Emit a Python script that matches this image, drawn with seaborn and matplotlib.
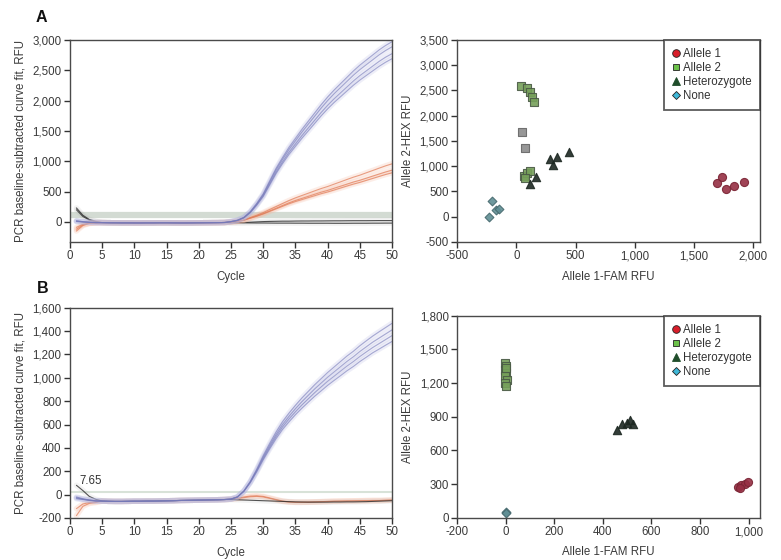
import matplotlib
matplotlib.use("Agg")
import matplotlib.pyplot as plt
from matplotlib.ticker import FuncFormatter
from matplotlib.lines import Line2D
import seaborn as sns
import pandas as pd

sns.set_style("white")
plt.rcParams["font.family"] = ["Liberation Sans", "DejaVu Sans"]

# ---------------- data ----------------
cycles = list(range(1, 51))

# panel A amplification curves (cycles 1..50)
a_base = [-12, -14, -15, -16, -16, -17, -17, -16, -16, -15, -15, -16, -17, -17, -16, -15, -14, -13, -12, -10]
a_blue_1 = [20, 5, -5, -10] + a_base + [5, 28, 75, 170, 305, 462, 672, 882, 1060, 1228, 1375, 1522, 1659, 1795, 1932, 2058, 2173, 2278, 2383, 2488, 2583, 2667, 2751, 2835, 2908, 2970]
a_blue_2 = [15, 3, -6, -11] + a_base + [5, 26, 72, 164, 296, 449, 653, 857, 1030, 1193, 1336, 1479, 1612, 1744, 1877, 1999, 2111, 2213, 2315, 2417, 2509, 2591, 2672, 2754, 2825, 2887]
a_blue_3 = [10, 0, -8, -12] + a_base + [5, 24, 68, 157, 284, 431, 627, 823, 990, 1147, 1284, 1421, 1548, 1676, 1803, 1921, 2029, 2127, 2225, 2323, 2411, 2489, 2568, 2646, 2715, 2773]
a_blue_4 = [5, -2, -9, -12] + a_base + [4, 23, 66, 152, 275, 418, 608, 798, 960, 1112, 1245, 1378, 1501, 1625, 1748, 1862, 1967, 2062, 2157, 2252, 2337, 2413, 2489, 2565, 2632, 2690]
a_orange_1 = [-150, -60, -25, -15] + a_base + [0, 11, 33, 72, 110, 154, 204, 253, 303, 352, 396, 435, 473, 512, 550, 583, 622, 660, 699, 737, 770, 809, 847, 886, 924, 957]
a_orange_2 = [-120, -50, -22, -14] + a_base + [0, 10, 29, 64, 98, 137, 181, 225, 270, 314, 353, 387, 421, 456, 490, 519, 554, 588, 622, 657, 686, 720, 755, 789, 823, 853]
a_orange_3 = [-90, -40, -20, -14] + a_base + [0, 9, 28, 60, 93, 130, 172, 214, 256, 298, 335, 367, 400, 432, 465, 493, 525, 558, 591, 623, 651, 684, 716, 749, 781, 809]
a_black_1 = [230, 110, 40, 10] + a_base + [-15, -12, -10, -5, 0, 5, 8, 10, 12, 12, 14, 15, 15, 16, 16, 17, 18, 18, 19, 20, 20, 20, 21, 22, 22, 22]
a_black_2 = [200, 90, 30, 5] + a_base + [-14, -15, -16, -17, -18, -18, -19, -20, -20, -20, -21, -21, -22, -22, -22, -22, -23, -23, -23, -22, -22, -22, -21, -21, -20, -20]
a_threshold = 115

# panel B amplification curves
b_base = [-55, -57, -58, -58, -57, -56, -56, -55, -55, -54, -53, -52, -50, -49, -48, -47, -46, -45, -44, -42]
b_blue_1 = [-20, -35, -45, -52] + b_base + [-38, -20, 31, 114, 218, 333, 437, 536, 624, 697, 764, 827, 884, 941, 993, 1045, 1092, 1139, 1186, 1227, 1274, 1316, 1357, 1394, 1430, 1466]
b_blue_2 = [-25, -38, -47, -53] + b_base + [-38, -20, 30, 110, 210, 320, 420, 515, 600, 670, 735, 795, 850, 905, 955, 1005, 1050, 1095, 1140, 1180, 1225, 1265, 1305, 1340, 1375, 1410]
b_blue_3 = [-30, -40, -48, -54] + b_base + [-38, -20, 29, 106, 203, 309, 405, 497, 579, 647, 709, 767, 820, 873, 922, 970, 1013, 1057, 1100, 1139, 1182, 1221, 1259, 1293, 1327, 1361]
b_blue_4 = [-35, -42, -50, -55] + b_base + [-38, -20, 28, 102, 195, 298, 391, 479, 558, 623, 684, 739, 791, 842, 888, 935, 977, 1018, 1060, 1097, 1139, 1176, 1214, 1246, 1279, 1311]
b_orange_1 = [-180, -100, -75, -68] + b_base + [-38, -30, -20, -12, -10, -15, -28, -42, -55, -62, -65, -65, -64, -62, -60, -58, -56, -55, -54, -53, -52, -51, -50, -50, -48, -46]
b_orange_2 = [-120, -80, -68, -62] + b_base + [-40, -34, -26, -18, -15, -20, -32, -45, -57, -63, -66, -66, -65, -63, -61, -59, -57, -56, -55, -54, -53, -52, -51, -51, -49, -47]
b_black_1 = [80, 35, -15, -40] + b_base + [-42, -44, -46, -48, -50, -52, -54, -56, -58, -60, -62, -63, -64, -64, -64, -64, -63, -63, -62, -62, -61, -60, -58, -56, -54, -52]
b_threshold = 25
b_label = "7.65"

# panel A allelic discrimination
a_al1_x = [1691, 1733, 1767, 1837, 1921]
a_al1_y = [667, 785, 548, 614, 693]
a_al2_x = [42, 90, 118, 132, 152, 62, 90, 118, 76]
a_al2_y = [2586, 2540, 2474, 2375, 2277, 796, 862, 895, 763]
a_unc_x = [51, 70]
a_unc_y = [1671, 1355]
a_het_x = [112, 169, 287, 309, 343, 447]
a_het_y = [651, 783, 1138, 1026, 1178, 1290]
a_non_x = [-205, -228, -169, -149]
a_non_y = [316, -13, 125, 158]

# panel B allelic discrimination
b_al1_x = [957, 970, 983, 996, 963]
b_al1_y = [270, 291, 300, 321, 261]
b_al2_x = [-3, 2, -4, 3, -2, 4, -3, 1, 0]
b_al2_y = [1375, 1350, 1320, 1290, 1260, 1230, 1200, 1170, 1330]
b_het_x = [460, 480, 500, 513, 523]
b_het_y = [781, 835, 841, 870, 832]
b_non_x = [0, 3]
b_non_y = [53, 39]

legend_labels = ["Allele 1", "Allele 2", "Heterozygote", "None"]

# ---------------- figure ----------------
fig = plt.figure(figsize=(7.81, 5.60), dpi=100)
axA1 = fig.add_axes([0.0896, 0.568, 0.4123, 0.3607])
axA2 = fig.add_axes([0.5852, 0.568, 0.3880, 0.3607])
axB1 = fig.add_axes([0.0896, 0.075, 0.4123, 0.3755])
axB2 = fig.add_axes([0.5852, 0.0755, 0.3880, 0.3607])

TICK_COL = "#3a3a3a"
FS = 8.3
comma = FuncFormatter(lambda v, p: f"{v:,.0f}")


def style_ax(ax):
    for s in ax.spines.values():
        s.set_color("#4a4a4a")
        s.set_linewidth(1.0)
    ax.tick_params(direction="out", length=4, width=1, color="#333333",
                   labelsize=FS, labelcolor=TICK_COL, pad=2, left=True, bottom=True)
    ax.yaxis.set_major_formatter(comma)
    ax.xaxis.set_major_formatter(comma)


def curves(ax, groups):
    for series, halo, line, halo_a, line_a in groups:
        rows = []
        for i, s in enumerate(series):
            for c, v in zip(cycles, s):
                rows.append({"cycle": c, "rfu": v, "rep": i})
        df = pd.DataFrame(rows)
        sns.lineplot(data=df, x="cycle", y="rfu", units="rep", estimator=None,
                     color=halo, lw=4.0, alpha=halo_a, ax=ax, legend=False)
        sns.lineplot(data=df, x="cycle", y="rfu", units="rep", estimator=None,
                     color=line, lw=0.8, alpha=line_a, ax=ax, legend=False)


BLUE = ("#b4b6e0", "#7478b8", 0.22, 0.6)
ORNG = ("#f6b8a0", "#e07a55", 0.25, 0.7)
BLK = ("#b0b0b0", "#2a2a2a", 0.15, 0.8)

# Panel A curves
axA1.axhline(a_threshold, color="#d3dbd3", lw=4.5, zorder=1)
curves(axA1, [
    ([a_black_1, a_black_2], *BLK),
    ([a_orange_1, a_orange_2, a_orange_3], *ORNG),
    ([a_blue_1, a_blue_2, a_blue_3, a_blue_4], *BLUE),
])
axA1.set_xlim(0, 50)
axA1.set_ylim(-330, 3000)
axA1.set_xticks(range(0, 51, 5))
axA1.set_yticks(range(0, 3001, 500))

# Panel B curves
axB1.axhline(b_threshold, color="#d8e2d8", lw=1.5, zorder=1)
curves(axB1, [
    ([b_orange_1, b_orange_2], *ORNG),
    ([b_black_1], *BLK),
    ([b_blue_1, b_blue_2, b_blue_3, b_blue_4], *BLUE),
])
axB1.set_xlim(0, 50)
axB1.set_ylim(-200, 1600)
axB1.set_xticks(range(0, 51, 5))
axB1.set_yticks(range(-200, 1601, 200))
axB1.text(1.4, 118, b_label, fontsize=FS, color="#333333", va="center", ha="left")

for ax in (axA1, axB1):
    style_ax(ax)
    ax.set_xlabel("Cycle", fontsize=FS, color=TICK_COL, labelpad=6)
    ax.set_ylabel("PCR baseline-subtracted curve fit, RFU", fontsize=FS, color=TICK_COL, labelpad=4)

# scatter styles
PLOT_STYLE = {
    "Allele 1": dict(marker="o", fc="#962f44", ec="#7a2434", s=34),
    "Allele 2": dict(marker="s", fc="#76a05a", ec="#4a5a46", s=30),
    "Uncalled": dict(marker="s", fc="#8c8c8c", ec="#666666", s=30),
    "Heterozygote": dict(marker="^", fc="#1d2822", ec="#1d2822", s=36),
    "None": dict(marker="D", fc="#5f8e94", ec="#46696e", s=20),
}


def scatter(ax, sets):
    for name, xs, ys in sets:
        st = PLOT_STYLE[name]
        df = pd.DataFrame({"x": xs, "y": ys})
        sns.scatterplot(data=df, x="x", y="y", marker=st["marker"], color=st["fc"],
                        edgecolor=st["ec"], linewidth=0.8, s=st["s"], alpha=0.9,
                        ax=ax, legend=False)


def legend(ax):
    handles = [
        Line2D([], [], ls="", marker="o", mfc="#d81e2a", mec="#222", mew=0.6, ms=5.5),
        Line2D([], [], ls="", marker="s", mfc="#6cc24a", mec="#222", mew=0.6, ms=5),
        Line2D([], [], ls="", marker="^", mfc="#1f4d2a", mec="#1f4d2a", mew=0.6, ms=5.5),
        Line2D([], [], ls="", marker="D", mfc="#3fb8d8", mec="#222", mew=0.6, ms=4),
    ]
    leg = ax.legend(handles, legend_labels, loc="upper right", bbox_to_anchor=(1.0, 1.0),
                    borderaxespad=0, fontsize=FS, frameon=True, fancybox=False,
                    handlelength=0.7, handletextpad=0.25, labelspacing=0.18,
                    borderpad=0.7)
    fr = leg.get_frame()
    fr.set_edgecolor("#333333")
    fr.set_linewidth(1.3)
    for t in leg.get_texts():
        t.set_color("#333333")


scatter(axA2, [
    ("None", a_non_x, a_non_y),
    ("Allele 2", a_al2_x, a_al2_y),
    ("Uncalled", a_unc_x, a_unc_y),
    ("Heterozygote", a_het_x, a_het_y),
    ("Allele 1", a_al1_x, a_al1_y),
])
axA2.set_xlim(-500, 2056)
axA2.set_ylim(-500, 3500)
axA2.set_xticks(range(-500, 2001, 500))
axA2.set_yticks(range(-500, 3501, 500))

scatter(axB2, [
    ("None", b_non_x, b_non_y),
    ("Allele 2", b_al2_x, b_al2_y),
    ("Heterozygote", b_het_x, b_het_y),
    ("Allele 1", b_al1_x, b_al1_y),
])
axB2.set_xlim(-200, 1047)
axB2.set_ylim(0, 1800)
axB2.set_xticks(range(-200, 1001, 200))
axB2.set_yticks(range(0, 1801, 300))

for ax in (axA2, axB2):
    style_ax(ax)
    ax.set_xlabel("Allele 1-FAM RFU", fontsize=FS, color=TICK_COL, labelpad=6)
    ax.set_ylabel("Allele 2-HEX RFU", fontsize=FS, color=TICK_COL, labelpad=4)
    legend(ax)

fig.text(0.0535, 0.969, "A", fontsize=11.5, fontweight="bold", ha="center", va="center", color="#111")
fig.text(0.0547, 0.4845, "B", fontsize=11.5, fontweight="bold", ha="center", va="center", color="#111")

fig.savefig("out.png", dpi=100)
